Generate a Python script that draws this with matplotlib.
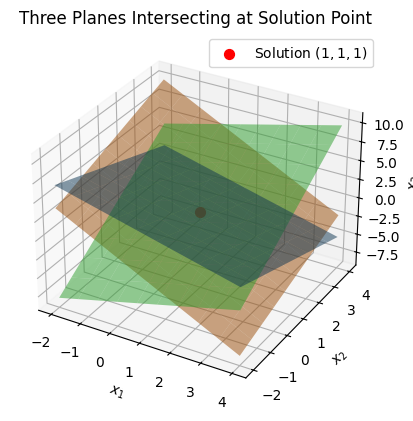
import numpy as np
import matplotlib.pyplot as plt

x_range = [-2, 4]
y_range = [-2, 4]
solution = [1, 1, 1]

# z = c + a*x + b*y
plane_blue = [3, -1, -1]
plane_orange = [2, -2, 1]
plane_green = [-2, 1, 2]
colors = ["tab:blue", "tab:orange", "tab:green"]

x = np.linspace(x_range[0], x_range[1], 10)
y = np.linspace(y_range[0], y_range[1], 10)
X, Y = np.meshgrid(x, y)

fig = plt.figure(figsize=(4.14, 4.21), dpi=100)
ax = fig.add_axes([-0.02, 0.047, 0.983, 0.876], projection="3d")

for plane, color in zip([plane_blue, plane_orange, plane_green], colors):
    ax.plot_surface(X, Y, plane[0] + plane[1] * X + plane[2] * Y, alpha=0.5, color=color)
ax.scatter(*solution, color="red", s=50, label="Solution $(1,1,1)$")

ax.set_xlabel("$x_1$")
ax.set_ylabel("$x_2$")
ax.set_zlabel("$x_3$")
ax.set_title("Three Planes Intersecting at Solution Point")
ax.legend()
fig.savefig("out.png", dpi=100)
